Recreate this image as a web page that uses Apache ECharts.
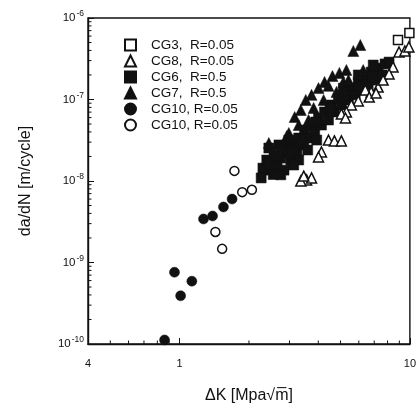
<!DOCTYPE html>
<html><head><meta charset="utf-8">
<script src="https://cdn.jsdelivr.net/npm/echarts@6/dist/echarts.min.js"></script>
<style>html,body{margin:0;padding:0;background:#fff}#c{width:419px;height:414px}</style>
</head><body><div id="c"></div>
<script>
const xTickValues = [0.4, 1, 10];
const xTickLabels = ['4', '1', '10'];
const yTickValues = [1e-10, 1e-9, 1e-8, 1e-7, 1e-6];
const yTickExponents = ['-10', '-9', '-8', '-7', '-6'];

const seriesNames = ['CG3,  R=0.05', 'CG8,  R=0.05', 'CG6,  R=0.5', 'CG7,  R=0.5', 'CG10, R=0.05', 'CG10,\u00a0R=0.05'];

const cg3 = [[8.88, 5.37e-7], [9.95, 6.55e-7]];
const cg8 = [[8.97, 3.83e-7], [9.51, 3.94e-7], [9.9, 4.41e-7], [8.45, 2.51e-7], [8.12, 2.06e-7], [7.28, 1.42e-7],
  [6.79, 1.24e-7], [6.40, 1.31e-7], [6.66, 1.07e-7], [7.13, 1.20e-7], [5.97, 9.59e-8], [5.57, 8.56e-8],
  [5.30, 7.03e-8], [5.04, 6.64e-8], [5.25, 5.93e-8], [4.43, 3.18e-8], [4.70, 3.10e-8], [5.04, 3.10e-8],
  [4.13, 2.27e-8], [4.01, 1.97e-8], [3.56, 1.03e-8], [3.74, 1.09e-8], [3.36, 1.0e-8], [3.46, 1.15e-8], [7.65, 1.73e-7]];
const cg6 = [[2.30, 1.44e-8], [2.39, 1.81e-8], [2.49, 1.36e-8], [2.57, 2.08e-8], [2.65, 1.57e-8], [2.75, 1.91e-8],
  [2.84, 1.36e-8], [2.92, 2.40e-8], [3.04, 1.81e-8], [3.13, 2.77e-8], [3.23, 2.27e-8], [3.29, 3.37e-8],
  [3.46, 2.77e-8], [3.49, 4.22e-8], [3.63, 3.37e-8], [3.74, 4.86e-8], [3.86, 3.99e-8], [4.01, 5.93e-8],
  [4.13, 4.86e-8], [4.26, 7.03e-8], [4.43, 5.60e-8], [4.57, 8.56e-8], [4.70, 7.03e-8], [4.89, 1.04e-7],
  [5.04, 8.56e-8], [5.25, 1.24e-7], [5.41, 9.86e-8], [5.57, 1.38e-7], [5.79, 1.14e-7], [5.97, 1.64e-7],
  [6.15, 1.31e-7], [6.34, 1.84e-7], [6.59, 1.51e-7], [6.79, 2.17e-7], [7.06, 1.73e-7], [7.28, 2.43e-7],
  [7.57, 2.00e-7], [7.80, 2.73e-7], [8.12, 2.88e-7], [2.75, 1.19e-8], [2.44, 2.54e-8], [2.98, 3.18e-8],
  [3.29, 1.81e-8], [3.94, 3.18e-8], [5.14, 1.38e-7], [5.97, 2.00e-7], [6.93, 2.65e-7], [2.70, 2.77e-8],
  [2.26, 1.09e-8], [3.13, 1.57e-8], [2.55, 1.2e-8], [3.0, 2.2e-8], [3.4, 3.0e-8], [3.9, 5.3e-8],
  [4.5, 7.8e-8], [5.2, 1.1e-7], [6.0, 1.45e-7], [6.9, 1.9e-7], [2.45, 1.65e-8], [3.6, 2.4e-8]];
const cg7 = [[6.09, 4.66e-7], [5.68, 3.94e-7], [5.30, 2.30e-7], [4.94, 2.12e-7], [4.61, 1.94e-7], [4.26, 1.64e-7],
  [4.01, 1.38e-7], [3.74, 1.14e-7], [3.53, 9.86e-8], [3.36, 7.43e-8], [3.16, 6.10e-8], [2.98, 3.88e-8],
  [2.92, 3.57e-8], [2.44, 2.92e-8], [2.78, 2.54e-8], [3.82, 7.87e-8], [4.43, 1.47e-7], [5.14, 1.64e-7],
  [3.29, 4.86e-8], [2.65, 2.08e-8], [4.80, 1.24e-7], [4.22, 9.86e-8], [3.63, 5.60e-8], [5.41, 1.73e-7], [6.27, 2.30e-7]];
const cg10Filled = [[1.27, 3.42e-9], [1.39, 3.72e-9], [1.55, 4.8e-9], [1.69, 6.0e-9], [0.95, 7.6e-10],
  [1.13, 5.9e-10], [1.01, 3.9e-10], [0.86, 1.12e-10]];
const cg10Open = [[1.73, 1.33e-8], [1.87, 7.3e-9], [2.06, 7.8e-9], [1.43, 2.37e-9], [1.53, 1.47e-9]];

const X_MIN = 0.4, X_MAX = 10, Y_MIN = 1e-10, Y_MAX = 1e-6;
const xMinor = [], yMinor = [];
for (let d = -1; d <= 0; d++) for (let k = 2; k <= 9; k++) {
  const v = k * Math.pow(10, d);
  if (v > X_MIN + 1e-9 && v < X_MAX - 1e-9) xMinor.push([v, Y_MIN]);
}
for (let d = -10; d <= -7; d++) for (let k = 2; k <= 9; k++) yMinor.push([X_MIN, k * Math.pow(10, d)]);

const FONT = '"Liberation Sans", Arial, sans-serif';
const INK = '#111';

function nearestIndex(v, vals) {
  let best = -1, bd = Infinity;
  vals.forEach((t, i) => { const d = Math.abs(Math.log10(v) - Math.log10(t)); if (d < bd) { bd = d; best = i; } });
  return bd < 0.05 ? best : -1;
}

const openStyle = { color: '#fff', borderColor: INK, borderWidth: 1.5, opacity: 1 };
const fillStyle = { color: INK, borderColor: INK, borderWidth: 0.5, opacity: 1 };

const chart = echarts.init(document.getElementById('c'), null, { renderer: 'canvas' });
chart.setOption({
  animation: false,
  backgroundColor: '#fff',
  grid: { left: 88, right: 6, top: 18, bottom: 70, show: true, borderColor: INK, borderWidth: 1.4, backgroundColor: 'transparent' },
  legend: {
    data: seriesNames,
    orient: 'vertical', left: 119, top: 33, itemGap: 2, itemWidth: 11, itemHeight: 11,
    textStyle: { fontFamily: FONT, fontSize: 13.5, color: INK, padding: [0, 0, 0, 10] },
    selectedMode: false
  },
  xAxis: {
    type: 'log', logBase: 10, min: X_MIN, max: X_MAX,
    axisLine: { lineStyle: { color: INK, width: 1.4 } },
    axisTick: { inside: true, length: 6, lineStyle: { color: INK } },
    splitLine: { show: false },
    axisLabel: { fontFamily: FONT, fontSize: 11, color: INK, margin: 14, showMinLabel: true,
      formatter: v => { const i = nearestIndex(v, xTickValues); return i < 0 ? '' : xTickLabels[i]; } },
    name: '\u0394K [Mpa\u221Am\u0305]', nameLocation: 'middle', nameGap: 44,
    nameTextStyle: { fontFamily: FONT, fontSize: 16, color: INK }
  },
  yAxis: {
    type: 'log', logBase: 10, min: Y_MIN, max: Y_MAX,
    axisLine: { lineStyle: { color: INK, width: 1.4 } },
    axisTick: { inside: true, length: 6, lineStyle: { color: INK } },
    splitLine: { show: false },
    axisLabel: { color: INK, margin: 4,
      formatter: v => { const i = nearestIndex(v, yTickValues); return i < 0 ? '' : '{b|10}{s|' + yTickExponents[i] + '}'; },
      rich: {
        b: { fontFamily: FONT, fontSize: 11.5, color: INK },
        s: { fontFamily: FONT, fontSize: 8.5, color: INK, padding: [0, 0, 8, 1] }
      } },
    name: 'da/dN [m/cycle]', nameLocation: 'middle', nameGap: 54,
    nameTextStyle: { fontFamily: FONT, fontSize: 16, color: INK }
  },
  series: [
    { name: seriesNames[0], type: 'scatter', symbol: 'rect', symbolSize: 9, data: cg3, itemStyle: openStyle, clip: false },
    { name: seriesNames[1], type: 'scatter', symbol: 'triangle', symbolSize: 10, data: cg8, itemStyle: openStyle, z: 3 },
    { name: seriesNames[2], type: 'scatter', symbol: 'rect', symbolSize: 10, data: cg6, itemStyle: fillStyle, z: 2 },
    { name: seriesNames[3], type: 'scatter', symbol: 'triangle', symbolSize: 11, data: cg7, itemStyle: fillStyle, z: 2 },
    { name: seriesNames[4], type: 'scatter', symbol: 'circle', symbolSize: 10, data: cg10Filled, itemStyle: fillStyle },
    { name: seriesNames[5], type: 'scatter', symbol: 'circle', symbolSize: 9, data: cg10Open, itemStyle: openStyle },
    { type: 'custom', silent: true, data: yMinor, z: 5,
      renderItem: (p, api) => { const c = api.coord([api.value(0), api.value(1)]);
        return { type: 'line', shape: { x1: c[0], y1: c[1], x2: c[0] + 3.5, y2: c[1] }, style: { stroke: INK, lineWidth: 1 } }; } },
    { type: 'custom', silent: true, data: xMinor, z: 5,
      renderItem: (p, api) => { const c = api.coord([api.value(0), api.value(1)]);
        return { type: 'line', shape: { x1: c[0], y1: c[1], x2: c[0], y2: c[1] - 3.5 }, style: { stroke: INK, lineWidth: 1 } }; } }
  ]
});
</script></body></html>
